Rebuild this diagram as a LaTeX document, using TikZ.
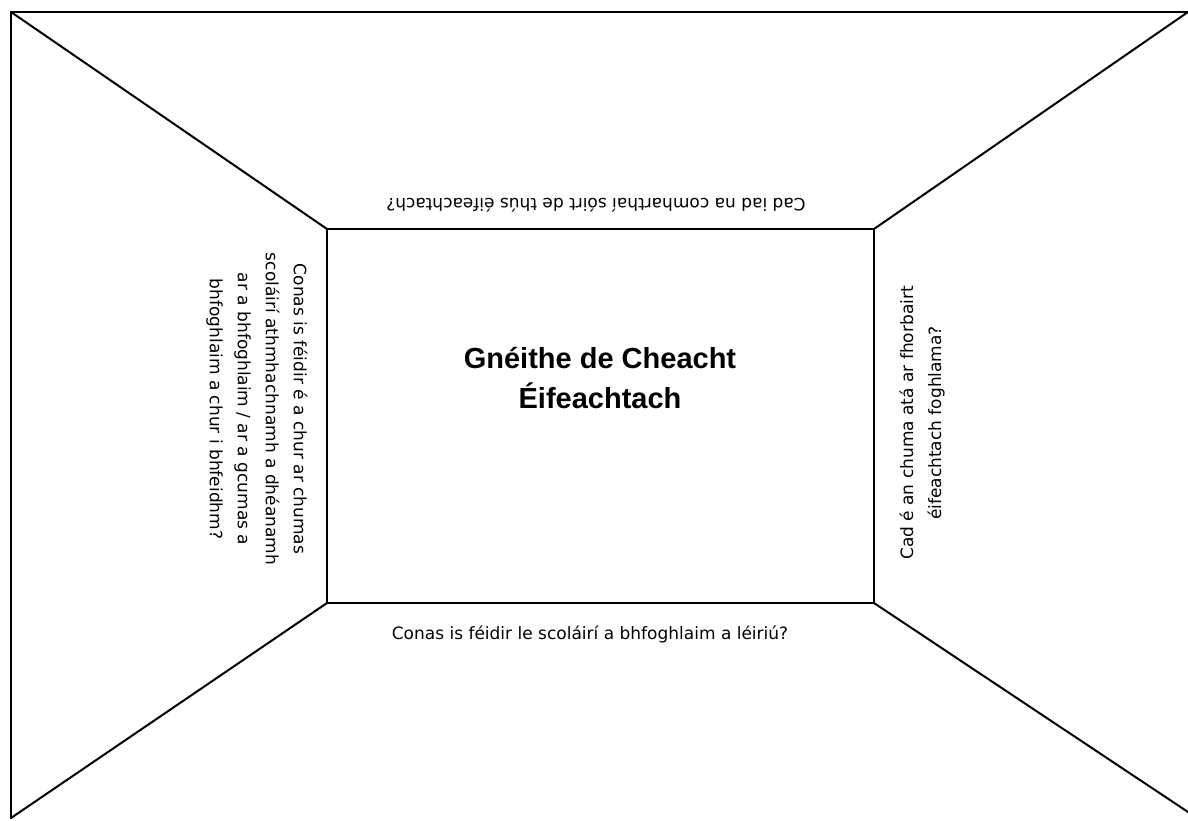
\documentclass[tikz,border=0pt]{standalone}
\usepackage{fontspec}
\setmainfont{Liberation Sans}
\newfontfamily\labelfont{DejaVu Sans}
\begin{document}
\begin{tikzpicture}[x=1pt,y=-1pt,
  edge/.style={line width=2pt,black,line cap=round,line join=miter},
  label/.style={font=\labelfont\fontsize{17}{28}\selectfont,align=center,text=black,inner sep=0pt},
  title/.style={font=\fontsize{29}{40}\selectfont\bfseries,align=center,inner sep=0pt}]
\useasboundingbox (0,0) rectangle (1188,821);
\coordinate (o1) at (11,12);
\coordinate (o2) at (1188,12);
\coordinate (o3) at (1188,812);
\coordinate (o4) at (11,818);
\coordinate (i1) at (327,229);
\coordinate (i2) at (874,229);
\coordinate (i3) at (874,603);
\coordinate (i4) at (327,603);
\draw[edge] (o4) -- (o1) -- (o2);
\draw[edge] (i1) -- (i2) -- (i3) -- (i4) -- cycle;
\draw[edge] (o1) -- (i1);
\draw[edge] (o2) -- (i2);
\draw[edge] (o3) -- (i3);
\draw[edge] (o4) -- (i4);
\node[title] (t) at (600,378) {Gnéithe de Cheacht\\Éifeachtach};
\node[label,rotate=180] (top) at (596,205) {Cad iad na comharthaí sóirt de thús éifeachtach?};
\node[label] (bot) at (590,634) {Conas is féidir le scoláirí a bhfoghlaim a léiriú?};
\node[label,rotate=-90] (left) at (257,409) {Conas is féidir é a chur ar chumas\\scoláirí athmhachnamh a dhéanamh\\ar a bhfoghlaim / ar a gcumas a\\bhfoghlaim a chur i bhfeidhm?};
\node[label,rotate=90] (right) at (922,423) {Cad é an chuma atá ar fhorbairt\\éifeachtach foghlama?};
\end{tikzpicture}
\end{document}
